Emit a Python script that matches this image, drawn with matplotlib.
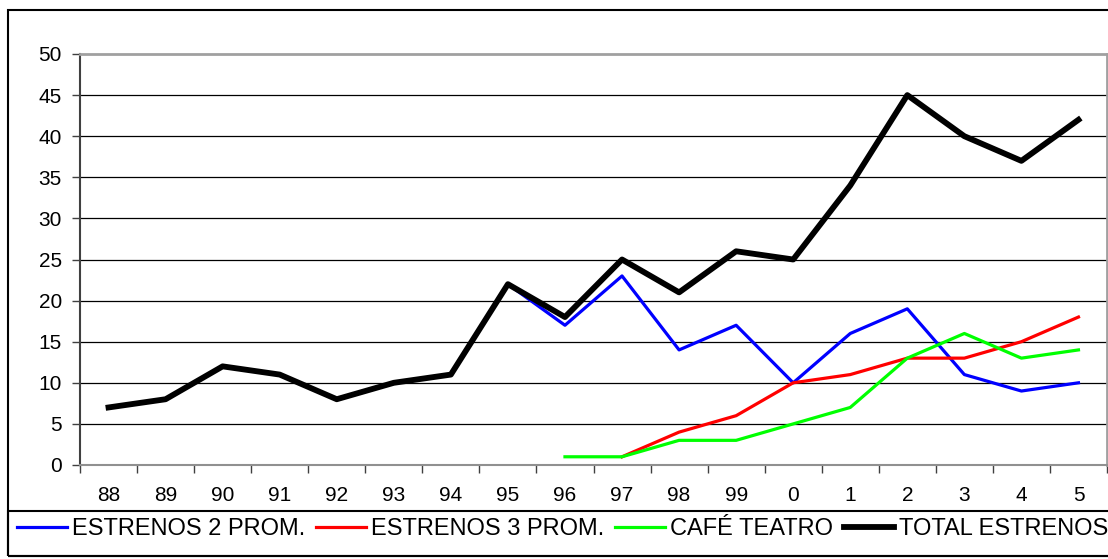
import numpy as np
import matplotlib
matplotlib.use("Agg")
import matplotlib.pyplot as plt
from matplotlib.patches import Rectangle

plt.rcParams['font.family'] = ['Liberation Sans', 'DejaVu Sans']

years = ['88', '89', '90', '91', '92', '93', '94', '95', '96',
         '97', '98', '99', '0', '1', '2', '3', '4', '5']
nan = np.nan
estrenos2 = [7, 8, 12, 11, 8, 10, 11, 22, 17, 23, 14, 17, 10, 16, 19, 11, 9, 10]
estrenos3 = [nan, nan, nan, nan, nan, nan, nan, nan, nan, 1, 4, 6, 10, 11, 13, 13, 15, 18]
cafe = [nan, nan, nan, nan, nan, nan, nan, nan, 1, 1, 3, 3, 5, 7, 13, 16, 13, 14]
total = [7, 8, 12, 11, 8, 10, 11, 22, 18, 25, 21, 26, 25, 34, 45, 40, 37, 42]

W, H = 1108, 559
fig = plt.figure(figsize=(W / 100, H / 100), dpi=100)
ax = fig.add_axes([80 / W, 1 - 465 / H, (1107 - 80) / W, (465 - 54) / H])

x = np.arange(len(years))
ax.plot(x, estrenos2, color='#0000FF', lw=2.3, label='ESTRENOS 2 PROM.', zorder=3)
ax.plot(x, estrenos3, color='#FF0000', lw=2.3, label='ESTRENOS 3 PROM.', zorder=3)
ax.plot(x, cafe, color='#00FF00', lw=2.3, label='CAFÉ TEATRO', zorder=3)
ax.plot(x, total, color='black', lw=4.2, label='TOTAL ESTRENOS', zorder=4)

ax.set_xlim(-0.5, len(years) - 0.5)
ax.set_ylim(0, 50)
ax.set_yticks(range(0, 51, 5))
for yv in range(5, 50, 5):
    ax.axhline(yv, color='black', lw=0.9, zorder=1)

ax.set_xticks(x)
ax.set_xticklabels(years)
ax.set_xticks(np.arange(-0.5, len(years), 1), minor=True)
ax.tick_params(axis='x', which='major', length=0, pad=15, labelsize=15)
ax.tick_params(axis='x', which='minor', length=6, width=1, color='#404040', direction='out')
ax.tick_params(axis='y', length=6, width=1, color='#404040', pad=7, labelsize=15)

ax.spines['left'].set_color('#404040')
ax.spines['left'].set_linewidth(1.5)
ax.spines['bottom'].set_color('#909090')
ax.spines['bottom'].set_linewidth(1.5)
ax.spines['top'].set_color('#a0a0a0')
ax.spines['top'].set_linewidth(2)
ax.spines['right'].set_color('#a0a0a0')
ax.spines['right'].set_linewidth(2)

# outer chart border and legend box
fig.patches.append(Rectangle((8 / W, 3 / H), 1.2, (556 - 10) / H, transform=fig.transFigure,
                             fill=False, edgecolor='black', lw=1.5))
fig.patches.append(Rectangle((8 / W, 3 / H), 1.2, (556 - 511) / H, transform=fig.transFigure,
                             fill=False, edgecolor='black', lw=1.5))

leg = fig.legend(loc='center left', bbox_to_anchor=(17 / W, 1 - 529 / H), ncol=4,
                 frameon=False, fontsize=17, borderpad=0, borderaxespad=0,
                 handlelength=2.1, handletextpad=0.22, columnspacing=0.47)

fig.savefig('out.png', dpi=100)
